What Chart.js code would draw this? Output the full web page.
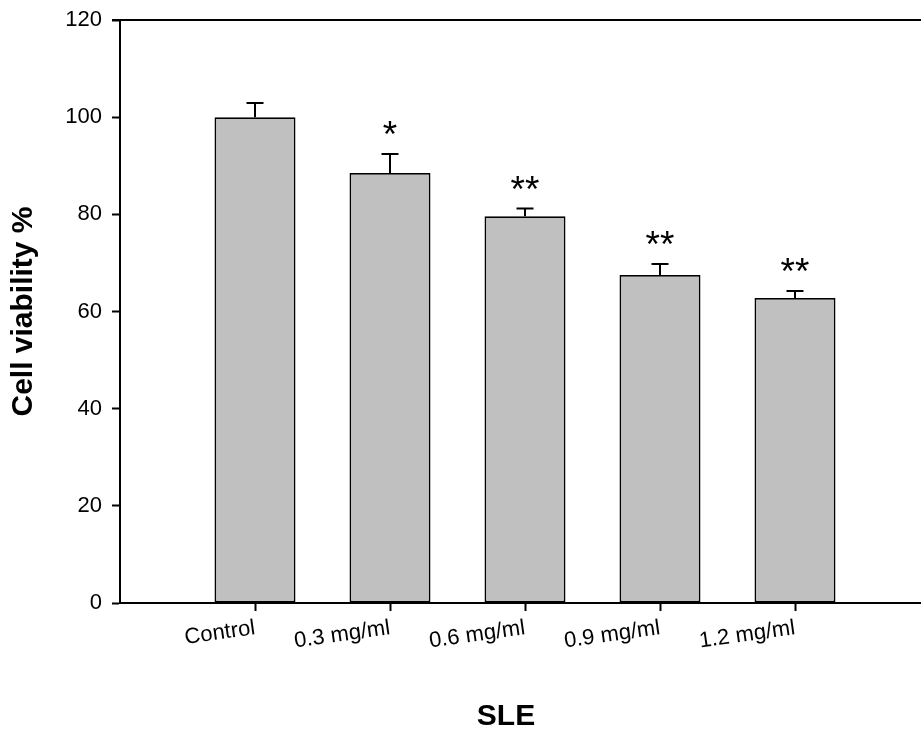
<!DOCTYPE html>
<html>
<head>
<meta charset="utf-8">
<script src="https://cdn.jsdelivr.net/npm/chart.js@4.4.1/dist/chart.umd.min.js"></script>
<style>
  html, body { margin: 0; padding: 0; background: #fff; overflow: hidden; }
  #wrap { width: 935px; height: 730px; }
</style>
</head>
<body>
<div id="wrap"><canvas id="chart"></canvas></div>
<script>
// Chart data
const categories = ['Control', '0.3 mg/ml', '0.6 mg/ml', '0.9 mg/ml', '1.2 mg/ml'];
const viability = [100, 88.5, 79.6, 67.5, 62.8];
const sem = [2.9, 3.9, 1.6, 2.3, 1.4];
const significance = ['', '*', '**', '**', '**'];
const yTicks = [0, 20, 40, 60, 80, 100, 120];
const xTitle = 'SLE';

const FONT = "'Liberation Sans', Arial, sans-serif";

// Error bars (upper only), significance stars, top frame, x title
const errorBarPlugin = {
    id: 'errorBars',
    afterDatasetsDraw(chart) {
        const ctx = chart.ctx;
        const y = chart.scales.y;
        const meta = chart.getDatasetMeta(0);
        ctx.save();
        ctx.strokeStyle = '#000';
        ctx.lineWidth = 2;
        meta.data.forEach((bar, i) => {
            const top = y.getPixelForValue(viability[i]);
            const errTop = y.getPixelForValue(viability[i] + sem[i]);
            ctx.beginPath();
            ctx.moveTo(bar.x, top);
            ctx.lineTo(bar.x, errTop);
            ctx.moveTo(bar.x - 8.5, errTop);
            ctx.lineTo(bar.x + 8.5, errTop);
            ctx.stroke();
            if (significance[i]) {
                ctx.fillStyle = '#000';
                ctx.font = '37px ' + FONT;
                ctx.textAlign = 'center';
                ctx.textBaseline = 'alphabetic';
                ctx.fillText(significance[i], bar.x, errTop - 7);
            }
        });
        // top frame line
        const a = chart.chartArea;
        ctx.beginPath();
        ctx.moveTo(a.left - 8, a.top);
        ctx.lineTo(a.right, a.top);
        ctx.stroke();
        // x axis title
        ctx.fillStyle = '#000';
        ctx.font = 'bold 30px ' + FONT;
        ctx.textAlign = 'center';
        ctx.textBaseline = 'alphabetic';
        ctx.fillText(xTitle, a.left + 386, chart.height - 5);
        ctx.restore();
    }
};

const ctx = document.getElementById('chart').getContext('2d');
const chart = new Chart(ctx, {
    type: 'bar',
    data: {
        datasets: [{
            label: 'Cell viability',
            data: viability.map((v, i) => ({ x: i + 1, y: v })),
            backgroundColor: '#c0c0c0',
            borderColor: '#000',
            borderWidth: 1.8,
            borderSkipped: false,
            barPercentage: 0.6,
            categoryPercentage: 1
        }]
    },
    options: {
        responsive: true,
        maintainAspectRatio: false,
        animation: false,
        layout: { padding: { top: 20, right: 5, left: 0, bottom: 0 } },
        plugins: {
            legend: { display: false },
            tooltip: { enabled: false }
        },
        scales: {
            x: {
                type: 'linear',
                offset: false,
                min: 0,
                max: 6,
                afterBuildTicks: scale => {
                    scale.ticks = categories.map((c, i) => ({ value: i + 1 }));
                },
                afterFit: scale => { scale.height = 127; },
                ticks: {
                    autoSkip: false,
                    minRotation: 8,
                    maxRotation: 8,
                    padding: 4,
                    color: '#000',
                    font: { family: FONT, size: 22 },
                    callback: v => categories[v - 1] || ''
                },
                grid: {
                    offset: false,
                    drawOnChartArea: false,
                    drawTicks: true,
                    tickLength: 8,
                    tickWidth: 2,
                    tickColor: '#000'
                },
                border: { color: '#000', width: 2 }
            },
            y: {
                min: 0,
                max: 120,
                afterBuildTicks: scale => {
                    scale.ticks = yTicks.map(v => ({ value: v }));
                },
                afterFit: scale => { scale.width = 120; },
                ticks: {
                    padding: 10,
                    color: '#000',
                    font: { family: FONT, size: 22, lineHeight: 0.8 }
                },
                grid: {
                    drawOnChartArea: false,
                    drawTicks: true,
                    tickLength: 8,
                    tickWidth: 2,
                    tickColor: '#000'
                },
                border: { color: '#000', width: 2 },
                title: {
                    display: true,
                    text: 'Cell viability %',
                    color: '#000',
                    font: { family: FONT, size: 30, weight: 'bold', lineHeight: 1.2 },
                    padding: { top: 6, bottom: 0 }
                }
            }
        }
    },
    plugins: [errorBarPlugin]
});
</script>
</body>
</html>
